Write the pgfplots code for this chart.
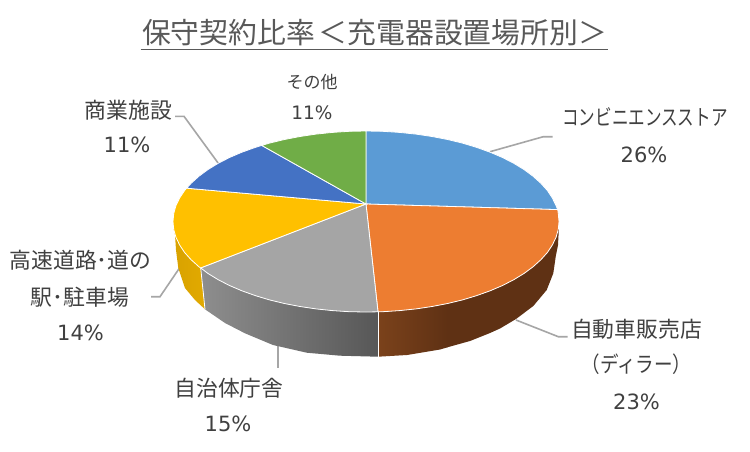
\documentclass[border=0pt]{standalone}
\usepackage{pgfplots}
\pgfplotsset{compat=1.18}
\usepackage{fontspec}
\setmainfont{Noto Sans CJK JP}
\newfontfamily\numfont{DejaVu Sans}
\definecolor{cblue}{HTML}{5B9BD5}
\definecolor{corange}{HTML}{ED7D31}
\definecolor{cgray}{HTML}{A5A5A5}
\definecolor{cyellow}{HTML}{FFC000}
\definecolor{cdblue}{HTML}{4472C4}
\definecolor{cgreen}{HTML}{70AD47}
\definecolor{ctext}{HTML}{404040}
\definecolor{cleader}{HTML}{A6A6A6}
\definecolor{ctitle}{HTML}{595959}
\definecolor{syl}{HTML}{D8A200}
\definecolor{syr}{HTML}{E2AA00}
\definecolor{sgl}{HTML}{8E8E8E}
\definecolor{sgr}{HTML}{575757}
\definecolor{sol}{HTML}{7B421B}
\definecolor{sor}{HTML}{5F3114}
% label helpers: x, y, text
\newcommand{\lab}[3]{\node[text=ctext,inner sep=0pt,anchor=center] at (axis cs:#1,#2) {\fontsize{21.8}{21.8}\selectfont #3};}
\newcommand{\pct}[3]{\node[text=ctext,inner sep=0pt,anchor=center] at (axis cs:#1,#2) {\numfont\fontsize{21}{21}\selectfont #3\%};}
\begin{document}
\begin{tikzpicture}
\path[fill=white] (0,0) rectangle (750pt,451pt);
\begin{axis}[
  at={(0,0)}, anchor=south west,
  width=750pt, height=451pt, scale only axis,
  xmin=0, xmax=750, ymin=0, ymax=451, y dir=reverse,
  hide axis, clip=false,
]
% leader lines
\addplot[cleader, line width=1.6pt] coordinates {(490,151.7) (543.3,136.7) (552.7,136.7)};
\addplot[cleader, line width=1.6pt] coordinates {(175,116.3) (184,116.3) (218.3,163.3)};
\addplot[cleader, line width=1.6pt] coordinates {(516,320) (558.3,336.7) (567.7,336.7)};
\addplot[cleader, line width=1.6pt] coordinates {(277.7,346) (277.7,368.3)};
\addplot[cleader, line width=1.6pt] coordinates {(179.3,268.3) (160,296.7) (151,296.7)};

% side walls
\addplot[draw=none, shade, left color=syl, right color=syr] coordinates {
  (173,221.5) (173.7,229.4) (175.9,237.2) (179.6,244.9) (184.6,252.5) (191.1,259.7) (198.9,266.75) (200.7,267.9)
  (205,309.3) (195,300) (185,288) (178.3,268) (176,250) (175,235)} --cycle;
\addplot[draw=none, shade, left color=sgl, right color=sgr] coordinates {
  (200.7,267.9) (207.9,273.4) (218.2,279.7) (229.5,285.5) (241.9,290.8) (255.3,295.6) (269.5,299.9) (284.4,303.5)
  (300,306.5) (316,308.9) (332.5,310.6) (349.2,311.7) (366,312) (378,311.8)
  (378,356.7) (340,355.7) (306.7,352.7) (273,345) (245,333.3) (225,323) (205,309.3)} --cycle;
\addplot[draw=none, shade, left color=sol, right color=sor] coordinates {
  (378,311.8) (382.8,311.7) (399.5,310.6) (416,308.9) (432,306.5) (447.6,303.5)
  (447.6,347.3) (440,349.5) (407,355) (378,356.7)} --cycle;
\addplot[draw=none, fill=sor] coordinates {
  (447,303.5) (462.5,299.9) (476.7,295.6)
  (490.1,290.8) (502.5,285.5) (513.8,279.7) (524.1,273.4) (533.1,266.75) (540.9,259.7) (547.4,252.5) (552.4,244.9)
  (556.1,237.2) (559,226)
  (558,245) (555.7,256.7) (553.3,273.3) (546.7,290) (533.3,306) (516,319) (500,328.5) (490,333) (470,341) (447,347.4)} --cycle;
\addplot[white, line width=0.8pt] coordinates {(378,311.8) (378,356.7)};
\addplot[white, line width=0.8pt] coordinates {(200.7,267.9) (205,309.3)};

% top face wedges
\addplot[draw=white, line width=0.8pt, fill=cblue] coordinates {
  (366,204) (366,131) (382.8,131.3) (399.5,132.4) (416,134.1) (432,136.5) (447.6,139.5) (462.5,143.1) (476.7,147.4)
  (490.1,152.2) (502.5,157.5) (513.8,163.3) (524.1,169.6) (533.1,176.25) (540.9,183.3) (547.4,190.5) (552.4,198.1)
  (556.1,205.8) (557.7,209.6)} --cycle;
\addplot[draw=white, line width=0.8pt, fill=corange] coordinates {
  (366,204) (557.7,209.6) (558.3,213.6) (559,221.5) (558.3,229.4) (556.1,237.2) (552.4,244.9) (547.4,252.5) (540.9,259.7)
  (533.1,266.75) (524.1,273.4) (513.8,279.7) (502.5,285.5) (490.1,290.8) (476.7,295.6) (462.5,299.9) (447.6,303.5)
  (432,306.5) (416,308.9) (399.5,310.6) (382.8,311.7) (378,311.8)} --cycle;
\addplot[draw=white, line width=0.8pt, fill=cgray] coordinates {
  (366,204) (378,311.8) (366,312) (349.2,311.7) (332.5,310.6) (316,308.9) (300,306.5) (284.4,303.5) (269.5,299.9)
  (255.3,295.6) (241.9,290.8) (229.5,285.5) (218.2,279.7) (207.9,273.4) (200.7,267.9)} --cycle;
\addplot[draw=white, line width=0.8pt, fill=cyellow] coordinates {
  (366,204) (200.7,267.9) (198.9,266.75) (191.1,259.7) (184.6,252.5) (179.6,244.9) (175.9,237.2) (173.7,229.4) (173,221.5)
  (173.7,213.6) (175.9,205.8) (179.6,198.1) (184.6,190.5) (186.6,188.2)} --cycle;
\addplot[draw=white, line width=0.8pt, fill=cdblue] coordinates {
  (366,204) (186.6,188.2) (191.1,183.3) (198.9,176.25) (207.9,169.6) (218.2,163.3) (229.5,157.5) (241.9,152.2)
  (255.3,147.4) (261.7,145.4)} --cycle;
\addplot[draw=white, line width=0.8pt, fill=cgreen] coordinates {
  (366,204) (261.7,145.4) (269.5,143.1) (284.4,139.5) (300,136.5) (316,134.1) (332.5,132.4) (349.2,131.3) (366,131)} --cycle;

% title
\node[text=ctitle,inner sep=0pt,anchor=center] at (axis cs:374.5,33) {\fontsize{28.8}{28.8}\selectfont 保守契約比率\hspace{4pt}＜充電器設置場所別＞};
\addplot[ctitle, line width=0.9pt] coordinates {(140.5,49.5) (608,49.5)};

% labels
\node[text=ctext,inner sep=0pt,anchor=center] at (axis cs:312,82) {\fontsize{17}{17}\selectfont その他};
\node[text=ctext,inner sep=0pt,anchor=center] at (axis cs:312,113) {\numfont\fontsize{18.5}{18.5}\selectfont 11\%};
\lab{128.5}{110}{商業施設}
\pct{127}{145}{11}
\lab{645}{117}{\scalebox{0.76}[1]{コンビニエンスストア}}
\pct{644}{155}{26}
\lab{636.5}{329}{自動車販売店}
\lab{636.5}{364}{\scalebox{0.85}[1]{（ディラー）}}
\pct{636.5}{402}{23}
\lab{80.5}{260}{高速道路･道の}
\lab{80}{297}{駅･駐車場}
\pct{80.5}{333}{14}
\lab{229}{388}{自治体庁舎}
\pct{228}{424}{15}
\end{axis}
\end{tikzpicture}
\end{document}
